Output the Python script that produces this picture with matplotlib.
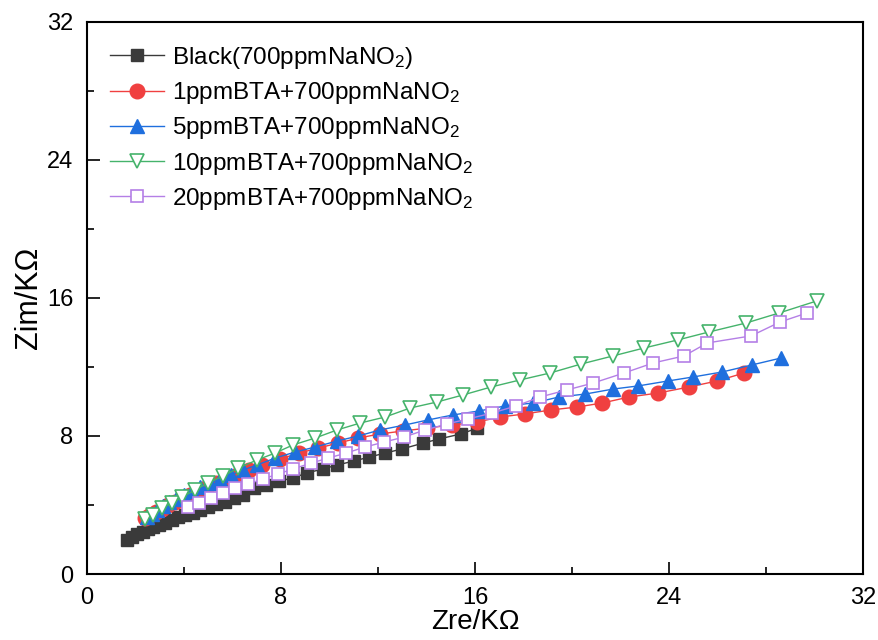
import numpy as np
import matplotlib
matplotlib.use("Agg")
from matplotlib import pyplot as plt
from matplotlib.ticker import MultipleLocator

plt.rcParams['font.family'] = ['Liberation Sans', 'DejaVu Sans']
plt.rcParams['mathtext.fontset'] = 'custom'
plt.rcParams['mathtext.rm'] = 'Liberation Sans'
plt.rcParams['mathtext.it'] = 'Liberation Sans'

# Zre / Zim in kOhm
black_x = [1.65, 1.86, 2.06, 2.31, 2.52, 2.72, 2.97, 3.22, 3.51, 3.75, 4.04, 4.37, 4.66, 4.99,
           5.32, 5.69, 6.06, 6.43, 6.89, 7.38, 7.92, 8.49, 9.07, 9.73, 10.31, 11.01, 11.63,
           12.29, 12.99, 13.86, 14.52, 15.42, 16.08]
black_y = [1.97, 2.14, 2.32, 2.43, 2.61, 2.72, 2.84, 2.96, 3.13, 3.30, 3.42, 3.54, 3.71, 3.88,
           4.06, 4.17, 4.41, 4.58, 4.99, 5.16, 5.39, 5.57, 5.86, 6.09, 6.32, 6.55, 6.78,
           7.01, 7.25, 7.59, 7.83, 8.12, 8.45]

red_x = [2.39, 2.60, 2.85, 3.09, 3.34, 3.63, 3.92, 4.25, 4.58, 4.95, 5.32, 5.73, 6.19, 6.68,
         7.22, 7.96, 8.74, 9.53, 10.35, 11.18, 12.08, 13.03, 14.02, 15.05, 16.08, 17.03,
         18.06, 19.13, 20.21, 21.24, 22.35, 23.55, 24.82, 25.98, 27.09]
red_y = [3.25, 3.42, 3.59, 3.77, 4.00, 4.17, 4.41, 4.58, 4.81, 5.04, 5.28, 5.51, 5.74, 6.03,
         6.32, 6.67, 7.01, 7.30, 7.59, 7.88, 8.12, 8.29, 8.46, 8.64, 8.81, 9.10,
         9.28, 9.51, 9.68, 9.91, 10.26, 10.49, 10.84, 11.19, 11.65]

blue_x = [2.47, 2.68, 2.89, 3.13, 3.38, 3.67, 4.00, 4.33, 4.66, 5.07, 5.48, 5.94, 6.43, 7.01,
          7.75, 8.58, 9.40, 10.31, 11.18, 12.08, 13.11, 14.06, 15.09, 16.16, 17.24, 18.39,
          19.46, 20.54, 21.69, 22.72, 23.96, 24.99, 26.19, 27.42, 28.62]
blue_y = [3.30, 3.48, 3.71, 3.94, 4.17, 4.35, 4.58, 4.81, 5.04, 5.28, 5.51, 5.74, 6.03, 6.32,
          6.72, 7.07, 7.36, 7.71, 8.00, 8.35, 8.64, 8.93, 9.22, 9.45, 9.74, 9.91,
          10.26, 10.43, 10.72, 10.90, 11.19, 11.42, 11.71, 12.12, 12.52]

green_x = [2.39, 2.72, 3.09, 3.51, 3.92, 4.45, 4.99, 5.61, 6.23, 7.01, 7.75, 8.49, 9.40, 10.31,
           11.26, 12.29, 13.32, 14.43, 15.51, 16.66, 17.86, 19.09, 20.37, 21.69, 22.97,
           24.37, 25.65, 27.18, 28.54, 30.10]
green_y = [3.19, 3.42, 3.83, 4.12, 4.46, 4.87, 5.28, 5.68, 6.14, 6.61, 7.01, 7.48, 7.88, 8.35,
           8.75, 9.10, 9.62, 9.97, 10.38, 10.84, 11.25, 11.65, 12.17, 12.64, 13.10,
           13.57, 14.03, 14.55, 15.13, 15.83]

purple_x = [4.16, 4.62, 5.11, 5.61, 6.10, 6.64, 7.26, 7.88, 8.49, 9.24, 9.94, 10.68, 11.46,
            12.25, 13.07, 13.94, 14.85, 15.71, 16.70, 17.69, 18.68, 19.79, 20.87, 22.14,
            23.34, 24.62, 25.57, 27.38, 28.58, 29.69]
purple_y = [3.88, 4.12, 4.41, 4.70, 4.99, 5.22, 5.51, 5.80, 6.09, 6.43, 6.72, 7.01, 7.36,
            7.65, 7.94, 8.35, 8.70, 8.99, 9.33, 9.74, 10.26, 10.67, 11.07, 11.65,
            12.23, 12.64, 13.39, 13.80, 14.61, 15.13]

labels = ['Black(700ppmNaNO$_2$)',
          '1ppmBTA+700ppmNaNO$_2$',
          '5ppmBTA+700ppmNaNO$_2$',
          '10ppmBTA+700ppmNaNO$_2$',
          '20ppmBTA+700ppmNaNO$_2$']

fig = plt.figure(figsize=(8.79, 6.4), dpi=100)
ax = fig.add_axes([0.099, 0.103, 0.883, 0.863])

ax.plot(black_x, black_y, color='#3a3a3a', lw=1, marker='s', ms=8.5,
        mfc='#3a3a3a', mec='#3a3a3a', label=labels[0])
ax.plot(red_x, red_y, color='#f04040', lw=1, marker='o', ms=10.5,
        mfc='#f04040', mec='#f04040', label=labels[1])
ax.plot(blue_x, blue_y, color='#1f6fde', lw=1, marker='^', ms=10.5,
        mfc='#1f6fde', mec='#1f6fde', label=labels[2])
ax.plot(green_x, green_y, color='#45b36b', lw=1, marker='v', ms=10.5,
        mfc='white', mec='#45b36b', mew=1.2, label=labels[3])
ax.plot(purple_x, purple_y, color='#b47fe6', lw=1, marker='s', ms=8.5,
        mfc='white', mec='#b47fe6', mew=1.2, label=labels[4])

ax.set_xlim(0, 32)
ax.set_ylim(0, 32)
ax.xaxis.set_major_locator(MultipleLocator(8))
ax.xaxis.set_minor_locator(MultipleLocator(4))
ax.yaxis.set_major_locator(MultipleLocator(8))
ax.yaxis.set_minor_locator(MultipleLocator(4))
ax.tick_params(which='both', direction='in', top=False, right=False, labelsize=17, width=1.2)
ax.tick_params(which='major', length=9)
ax.tick_params(axis='x', which='major', pad=9)
ax.tick_params(axis='y', which='major', pad=10)
ax.tick_params(which='minor', length=5)
for s in ax.spines.values():
    s.set_linewidth(1.5)

ax.set_xlabel('Zre/K\u03a9', fontsize=20, labelpad=0)
ax.set_ylabel('Zim/K\u03a9', fontsize=22, labelpad=2)

ax.legend(loc='upper left', frameon=False, fontsize=17.5, handlelength=2.2,
          labelspacing=0.38, borderaxespad=0.55, handletextpad=0.35)

fig.savefig('out.png', dpi=100)
